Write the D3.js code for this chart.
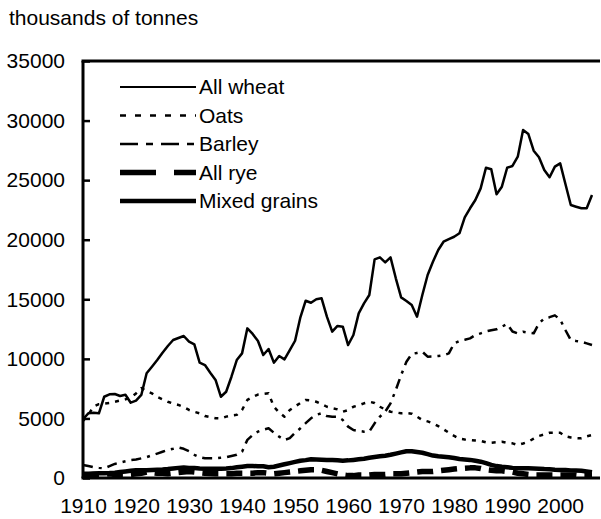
<!DOCTYPE html>
<html>
<head>
<meta charset="utf-8">
<script src="https://cdn.jsdelivr.net/npm/d3@7"></script>
<style>
  body { margin: 0; background: #fff; }
  svg text { font-family: "Liberation Sans", Arial, sans-serif; fill: #000; }
</style>
</head>
<body>
<div id="chart"></div>
<script>

// one value per year, 1910 - 2006
var years = d3.range(1910, 2007);

var wheat = [4930,5430,5480,5430,6820,7020,7050,6880,6990,6320,
  6490,6970,8790,9340,9900,10520,11080,11580,11750,11920,
  11440,11220,9680,9480,8840,8230,6820,7240,8500,9900,
  10460,12560,12090,11500,10320,10830,9680,10240,9960,10740,
  11520,13490,14880,14710,15000,15080,13540,12280,12760,12700,
  11160,12000,13820,14660,15360,18350,18520,18100,18520,16760,
  15160,14860,14520,13540,15360,17040,18150,19140,19830,20050,
  20250,20540,21880,22640,23330,24310,26040,25910,23810,24450,
  26040,26190,26970,29210,28870,27470,26920,25850,25240,26130,
  26410,24650,22910,22770,22640,22640,23750];

var oats = [4800,5300,6000,6200,6250,6300,6400,6500,6600,6750,
  7100,7550,7300,7100,6800,6600,6400,6250,6130,5950,
  5710,5550,5430,5200,5100,5010,5000,5150,5250,5300,
  5710,6550,6800,7000,7050,7110,5980,5500,5140,5710,
  6000,6300,6550,6500,6400,6200,5980,5850,5760,5560,
  5700,5980,6100,6270,6400,6300,5980,5750,5560,5500,
  5430,5450,5400,5150,4870,4750,4590,4350,4090,3800,
  3530,3300,3230,3190,3150,3110,3000,2960,3000,3050,
  2950,2910,2770,2900,3050,3300,3530,3650,3800,3800,
  3800,3500,3400,3350,3330,3500,3610];

var barley = [1090,1000,900,850,810,1000,1180,1300,1400,1500,
  1550,1650,1750,1900,2050,2200,2350,2450,2570,2450,
  2250,1950,1750,1650,1650,1650,1700,1740,1850,1950,
  2200,3200,3600,3890,4050,4170,3800,3470,3190,3350,
  3800,4170,4600,5010,5300,5430,5200,5150,5150,4870,
  4310,4030,3950,3890,3900,4590,5150,5560,6270,7390,
  8640,9760,10410,10500,10600,10180,10200,10240,10300,10460,
  11300,11500,11600,11720,12000,12140,12300,12400,12480,12700,
  12930,12300,12140,12280,12200,12140,12980,13400,13500,13650,
  13300,12400,11580,11500,11440,11300,11160];

var rye = [250,250,300,300,300,350,300,300,300,300,
  350,400,500,450,400,400,350,400,450,500,
  550,500,450,400,380,350,350,350,350,400,
  400,400,400,450,450,400,350,400,450,500,
  550,600,650,700,700,650,550,450,350,250,
  200,200,250,250,250,300,300,300,350,350,
  350,400,450,500,550,550,550,600,650,700,
  750,800,820,850,850,800,700,650,600,600,
  550,500,400,350,300,250,250,250,250,250,
  250,250,250,250,200,200,200];

var mixed = [350,350,380,400,400,420,450,500,550,600,
  650,650,650,680,700,720,750,800,850,880,
  850,830,800,780,775,770,780,800,830,900,
  950,1010,1000,990,980,900,950,1050,1150,1250,
  1350,1450,1500,1570,1560,1540,1520,1510,1480,1450,
  1480,1520,1570,1620,1700,1760,1820,1870,1950,2050,
  2150,2250,2250,2180,2120,2000,1880,1820,1780,1740,
  1680,1600,1560,1520,1450,1370,1250,1100,1000,940,
  900,850,810,810,810,800,780,750,730,700,
  680,670,640,620,600,540,480];

var yTicks = [0, 5000, 10000, 15000, 20000, 25000, 30000, 35000];
var xTicks = [1910, 1920, 1930, 1940, 1950, 1960, 1970, 1980, 1990, 2000];

var series = [
  {name: "All wheat",    values: wheat,  width: 2.5, dash: null,          legDash: null,           legWidth: 2},
  {name: "Oats",         values: oats,   width: 2.5, dash: "4,6",         legDash: "6,9",          legWidth: 2.5},
  {name: "Barley",       values: barley, width: 2.5, dash: "10,6,3,6",    legDash: "18,8,7,8",     legWidth: 2.5},
  {name: "All rye",      values: rye,    width: 5.5, dash: "16,8",        legDash: "36,18",        legWidth: 5.5},
  {name: "Mixed grains", values: mixed,  width: 4.5, dash: null,          legDash: null,           legWidth: 4.5}
];

var width = 601, height = 519;
var fs = "21px";

var svg = d3.select("#chart").append("svg")
    .attr("width", width)
    .attr("height", height);

var x = d3.scaleLinear().domain([1910, 2006]).range([83, 592]);
var y = d3.scaleLinear().domain([0, 35000]).range([478, 61]);

// unit label
svg.append("text")
    .attr("x", 9)
    .attr("y", 25)
    .style("font-size", fs)
    .text("thousands of tonnes");

// y axis ticks + labels (ticks point into the plot)
var yAxis = svg.append("g")
    .attr("transform", "translate(" + x(1910) + ",0)")
    .call(d3.axisLeft(y).tickValues(yTicks).tickSize(-7).tickPadding(18).tickFormat(d3.format("d")));
yAxis.select(".domain").remove();
yAxis.selectAll("line").attr("stroke", "#000").attr("stroke-width", 2.5);
yAxis.selectAll("text").style("font-size", fs);

var xAxis = svg.append("g")
    .attr("transform", "translate(0," + y(0) + ")")
    .call(d3.axisBottom(x).tickValues(xTicks).tickSize(0).tickPadding(20).tickFormat(d3.format("d")));
xAxis.select(".domain").remove();
xAxis.selectAll("text").style("font-size", fs);

// lines
var line = d3.line()
    .x(function(d, i) { return x(years[i]); })
    .y(function(d) { return y(d); });

series.forEach(function(s) {
  svg.append("path")
      .datum(s.values)
      .attr("fill", "none")
      .attr("stroke", "#000")
      .attr("stroke-width", s.width)
      .attr("stroke-linejoin", "round")
      .attr("stroke-dasharray", s.dash)
      .attr("d", line);
});

// frame: left, top, bottom
svg.append("line")
    .attr("x1", x(1910)).attr("x2", x(1910))
    .attr("y1", y(35000)).attr("y2", y(0))
    .attr("stroke", "#000").attr("stroke-width", 3);
svg.append("line")
    .attr("x1", x(1910) - 1.5).attr("x2", 600)
    .attr("y1", y(35000)).attr("y2", y(35000))
    .attr("stroke", "#000").attr("stroke-width", 3);
svg.append("line")
    .attr("x1", x(1910) - 1.5).attr("x2", 600)
    .attr("y1", y(0)).attr("y2", y(0))
    .attr("stroke", "#000").attr("stroke-width", 3);

// legend
var legend = svg.append("g").attr("transform", "translate(120,87)");
series.forEach(function(s, i) {
  var row = legend.append("g").attr("transform", "translate(0," + (i * 28.5) + ")");
  row.append("line")
      .attr("x1", 0).attr("x2", 76)
      .attr("stroke", "#000")
      .attr("stroke-width", s.legWidth)
      .attr("stroke-dasharray", s.legDash);
  row.append("text")
      .attr("x", 79)
      .attr("dy", "0.35em")
      .style("font-size", fs)
      .text(s.name);
});

</script>
</body>
</html>
